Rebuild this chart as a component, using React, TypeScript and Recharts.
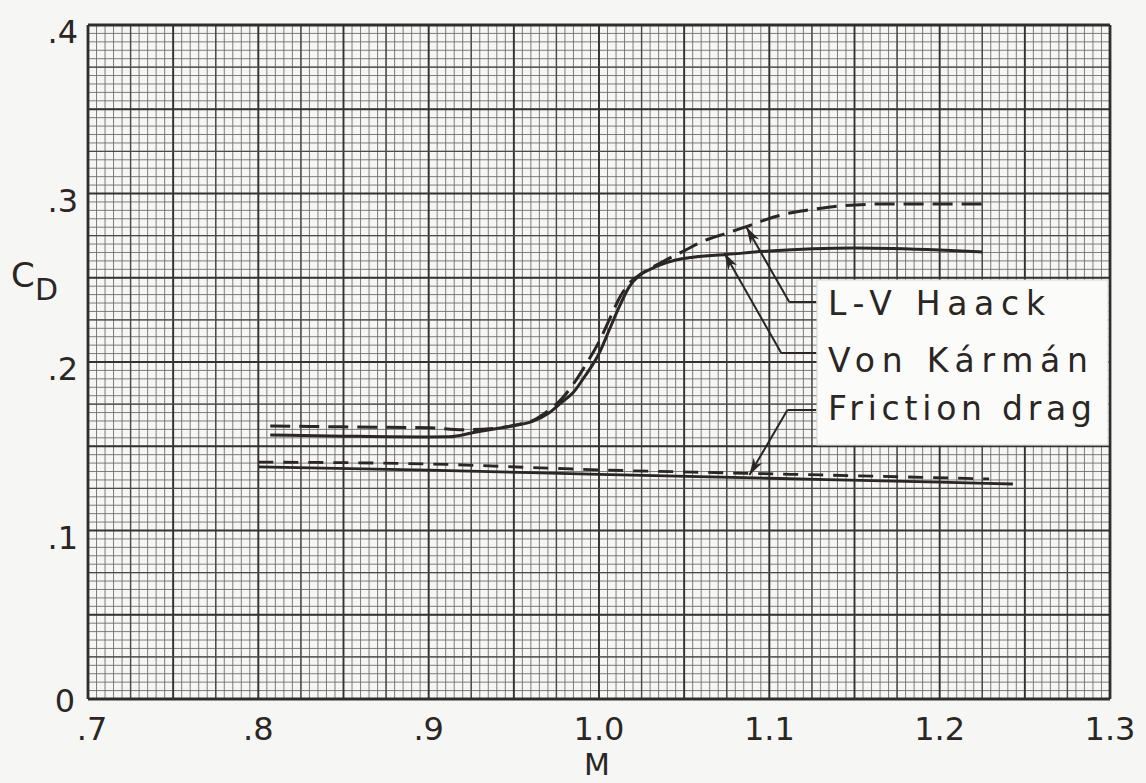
import React from "react";
import { LineChart, Line, XAxis, YAxis, CartesianGrid, ReferenceLine } from "recharts";

const W = 1146;
const H = 783;
const INK = "#2a2624";
const FONT = "'DejaVu Sans', sans-serif";

// Von Kármán (solid)
const vonKarmanM = [0.807, 0.85, 0.9, 0.912, 0.928, 0.942, 0.952, 0.961, 0.971, 0.978, 0.985, 0.992, 0.996, 1.0, 1.006, 1.012, 1.018, 1.024, 1.03, 1.036, 1.045, 1.055, 1.075, 1.1, 1.15, 1.2, 1.225];
const vonKarmanCd = [0.1567, 0.156, 0.1555, 0.1556, 0.1585, 0.1608, 0.1626, 0.1648, 0.17, 0.176, 0.182, 0.192, 0.198, 0.205, 0.219, 0.233, 0.245, 0.2516, 0.255, 0.2576, 0.2605, 0.2622, 0.2638, 0.2659, 0.2677, 0.2665, 0.2653];

// L-V Haack (dashed)
const haackM = [0.807, 0.85, 0.9, 0.92, 0.94, 0.952, 0.961, 0.97, 0.978, 0.985, 0.992, 1.0, 1.006, 1.012, 1.018, 1.025, 1.037, 1.05, 1.06, 1.075, 1.087, 1.098, 1.112, 1.125, 1.14, 1.17, 1.2, 1.229];
const haackCd = [0.162, 0.1615, 0.161, 0.1598, 0.1608, 0.1628, 0.1652, 0.171, 0.178, 0.187, 0.198, 0.212, 0.225, 0.238, 0.247, 0.2525, 0.2593, 0.266, 0.2712, 0.2765, 0.2805, 0.2845, 0.2884, 0.2905, 0.2925, 0.2938, 0.2938, 0.2938];

// friction drag, solid and dashed
const frictionSolidM = [0.8, 0.9, 1.0, 1.1, 1.2, 1.243];
const frictionSolidCd = [0.1378, 0.1358, 0.1333, 0.131, 0.1287, 0.1276];
const frictionDashM = [0.8, 0.9, 0.97, 1.0, 1.08, 1.15, 1.229];
const frictionDashCd = [0.1406, 0.1395, 0.137, 0.136, 0.1341, 0.1325, 0.1306];

const xLabelTicks = [0.7, 0.8, 0.9, 1.0, 1.1, 1.2, 1.3];
const xLabels = [".7", ".8", ".9", "1.0", "1.1", "1.2", "1.3"];
const yLabelTicks = [0, 0.1, 0.2, 0.3, 0.4];
const yLabels = ["0", ".1", ".2", ".3", ".4"];

const legendNames = ["L-V Haack", "Von Kármán", "Friction drag"];
// leader lines: tip on the curve, elbow, end at the label box
const leaderTipM = [1.0865, 1.0736, 1.0883];
const leaderTipCd = [0.2801, 0.2647, 0.1329];
const leaderElbowM = [1.1117, 1.107, 1.1106];
const leaderElbowCd = [0.2356, 0.2053, 0.1715];
const leaderEndM = 1.1276;

const zip = (ms: number[], cds: number[]) => ms.map((m, i) => ({ m, cd: cds[i] }));

const steps = (from: number, to: number, step: number) => {
  const out: number[] = [];
  const n = Math.round((to - from) / step);
  for (let i = 0; i <= n; i++) out.push(+(from + i * step).toFixed(4));
  return out;
};

const minorX = steps(0.7, 1.3, 0.005);
const minorY = steps(0, 0.4, 0.005);
const midX = steps(0.7, 1.3, 0.025);
const midY = steps(0, 0.4, 0.025);
const isMajor = (v: number) => Math.abs(v * 20 - Math.round(v * 20)) < 1e-6;

const findIdx = (arr: number[], v: number) => arr.findIndex((t) => Math.abs(t - v) < 1e-6);

const XTick = (props: any) => {
  const { x, y, payload } = props;
  const i = findIdx(xLabelTicks, payload.value);
  if (i < 0) return <g />;
  return (
    <text x={x + (i === 0 ? 4 : 0)} y={y + 41} textAnchor="middle" fontFamily={FONT} fontSize={32} fill={INK}>
      {xLabels[i]}
    </text>
  );
};

const YTick = (props: any) => {
  const { x, y, payload } = props;
  const i = findIdx(yLabelTicks, payload.value);
  if (i < 0) return <g />;
  const zero = i === 0;
  return (
    <text x={zero ? x - 3 : x} y={y + (zero ? 13 : 18)} textAnchor="end" fontFamily={FONT} fontSize={32} fill={INK}>
      {yLabels[i]}
    </text>
  );
};

const Arrow = (props: any) => {
  const { x1, y1, x2, y2 } = props;
  const dx = x2 - x1;
  const dy = y2 - y1;
  const len = Math.hypot(dx, dy) || 1;
  const ux = dx / len;
  const uy = dy / len;
  const px = -uy;
  const py = ux;
  const L = 17;
  const Wd = 5;
  const bx = x2 - ux * L;
  const by = y2 - uy * L;
  const nx = x2 - ux * (L - 5);
  const ny = y2 - uy * (L - 5);
  const pts = `${x2},${y2} ${bx + px * Wd},${by + py * Wd} ${nx},${ny} ${bx - px * Wd},${by - py * Wd}`;
  return (
    <g>
      <line x1={x1} y1={y1} x2={x2} y2={y2} stroke={INK} strokeWidth={2} />
      <polygon points={pts} fill={INK} />
    </g>
  );
};

export default function App() {
  return (
    <div style={{ position: "absolute", left: 0, top: 0, width: W, height: H, background: "#f6f6f4" }}>
      <LineChart width={W} height={H} margin={{ top: 25, right: 36, left: 8, bottom: 24 }}>
        <CartesianGrid stroke="#6e6e6e" strokeWidth={0.9} />
        <XAxis
          type="number"
          dataKey="m"
          domain={[0.7, 1.3]}
          ticks={minorX}
          interval={0}
          allowDataOverflow
          axisLine={false}
          tickLine={false}
          tickSize={0}
          tickMargin={0}
          height={60}
          tick={<XTick />}
        />
        <YAxis
          type="number"
          dataKey="cd"
          domain={[0, 0.4]}
          ticks={minorY}
          interval={0}
          allowDataOverflow
          axisLine={false}
          tickLine={false}
          tickSize={0}
          tickMargin={10}
          width={80}
          tick={<YTick />}
        />
        {midX.map((v) => (
          <ReferenceLine key={"vx" + v} x={v} stroke={isMajor(v) ? "#333" : "#4a4a4a"} strokeWidth={isMajor(v) ? 1.9 : 1.4} />
        ))}
        {midY.map((v) => (
          <ReferenceLine key={"hy" + v} y={v} stroke={isMajor(v) ? "#333" : "#4a4a4a"} strokeWidth={isMajor(v) ? 1.9 : 1.4} />
        ))}
        <ReferenceLine x={0.7} stroke="#2e2e2e" strokeWidth={2.8} />
        <ReferenceLine x={1.3} stroke="#2e2e2e" strokeWidth={2.8} />
        <ReferenceLine y={0} stroke="#2e2e2e" strokeWidth={2.8} />
        <ReferenceLine y={0.4} stroke="#2e2e2e" strokeWidth={2.8} />

        <Line data={zip(frictionSolidM, frictionSolidCd)} dataKey="cd" type="monotone" dot={false} stroke={INK} strokeWidth={2.8} isAnimationActive={false} />
        <Line data={zip(frictionDashM, frictionDashCd)} dataKey="cd" type="monotone" dot={false} stroke={INK} strokeWidth={2.8} strokeDasharray="15 10" isAnimationActive={false} />
        <Line data={zip(vonKarmanM, vonKarmanCd)} dataKey="cd" type="monotone" dot={false} stroke={INK} strokeWidth={3} isAnimationActive={false} />
        <Line data={zip(haackM, haackCd)} dataKey="cd" type="monotone" dot={false} stroke={INK} strokeWidth={3} strokeDasharray="20 9" isAnimationActive={false} />

        {leaderTipM.map((m, i) => (
          <ReferenceLine
            key={"lh" + i}
            segment={[
              { x: leaderEndM, y: leaderElbowCd[i] },
              { x: leaderElbowM[i], y: leaderElbowCd[i] },
            ]}
            stroke={INK}
            strokeWidth={2}
          />
        ))}
        {leaderTipM.map((m, i) => (
          <ReferenceLine
            key={"ld" + i}
            segment={[
              { x: leaderElbowM[i], y: leaderElbowCd[i] },
              { x: m, y: leaderTipCd[i] },
            ]}
            shape={<Arrow />}
          />
        ))}
      </LineChart>

      <svg width={W} height={H} style={{ position: "absolute", left: 0, top: 0, pointerEvents: "none" }}>
        <rect x={817} y={280} width={291} height={165} fill="#fbfbfa" stroke="#d4d4d2" strokeWidth={1} />
        {legendNames.map((name, i) => (
          <text
            key={name}
            x={828}
            y={[315, 372, 420][i]}
            textLength={[217, 260, 264][i]}
            lengthAdjust="spacing"
            fontFamily={FONT}
            fontSize={33}
            fill={INK}
          >
            {name}
          </text>
        ))}
        <text x={597} y={775} textAnchor="middle" fontFamily={FONT} fontSize={30} fill={INK}>
          M
        </text>
        <text x={11} y={287} fontFamily={FONT} fontSize={34} fill={INK}>
          C
        </text>
        <text x={35} y={300} fontFamily={FONT} fontSize={30} fill={INK}>
          D
        </text>
      </svg>
    </div>
  );
}
